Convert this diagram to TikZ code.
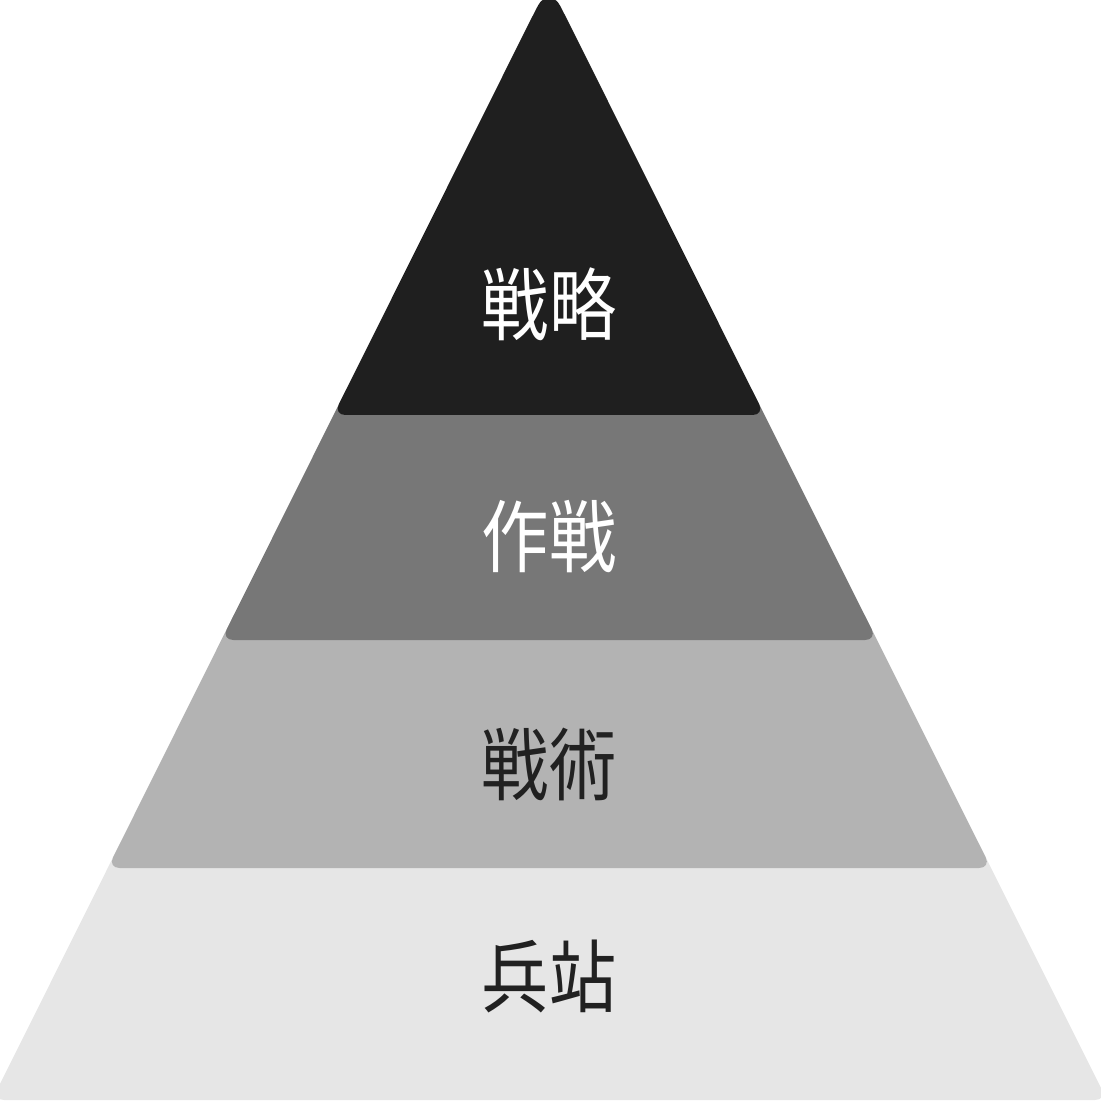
\documentclass[tikz,border=0pt]{standalone}
\usepackage{fontspec}
\newfontfamily\jpfont{Noto Sans CJK JP}
\usepackage{tikz}
\definecolor{pyrblack}{RGB}{31,31,31}
\definecolor{pyrgray}{RGB}{119,119,119}
\definecolor{pyrsilver}{RGB}{179,179,179}
\definecolor{pyrmist}{RGB}{230,230,230}
\definecolor{inkdark}{RGB}{33,33,33}

\begin{document}
\begin{tikzpicture}[
  x=0.01cm, y=-0.01cm,
  layer/.style={rounded corners=3.4pt},
  tier/.style={font=\jpfont\fontsize{22.5pt}{22.5pt}\selectfont, inner sep=0pt, xscale=0.85, transform shape}
]
\useasboundingbox (0,0) rectangle (1101,1101);
\fill[layer, pyrmist] (125.2,833) -- (973.5,833) -- (1107,1100) -- (-8,1100) -- cycle;
\fill[layer, pyrsilver] (238.8,605) -- (859.5,605) -- (991,868) -- (107.7,868) -- cycle;
\fill[layer, pyrgray] (351,380) -- (747,380) -- (877,640) -- (221.4,640) -- cycle;
\fill[layer, pyrblack] (532.5,16.1) .. controls (543.5,-5) and (554.5,-5) .. (565.5,16.1) -- (764.5,415) -- (333.5,415) -- cycle;

\node[tier, text=white] (strategy) at (549,304) {戦略};
\node[tier, text=white] (operation) at (549,537) {作戦};
\node[tier, text=inkdark] (tactics) at (549,764) {戦術};
\node[tier, text=inkdark] (logistics) at (549,976) {兵站};
\end{tikzpicture}
\end{document}
